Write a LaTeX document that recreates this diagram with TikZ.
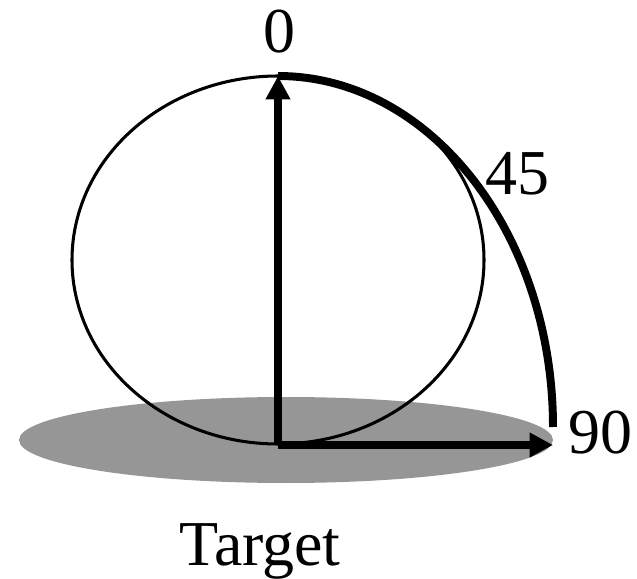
\documentclass[tikz,border=0pt]{standalone}
\usepackage{fontspec}
\setmainfont{Liberation Serif}
\usepackage{tikz}
\usetikzlibrary{shapes,arrows.meta,positioning}
\definecolor{targetgray}{gray}{0.59}
\begin{document}
\begin{tikzpicture}[x=0.03cm,y=0.03cm,
        lbl/.style={anchor=base,inner sep=0pt,font=\fontsize{54.6}{60}\selectfont},
        axis/.style={line width=6pt,-{Triangle[length=20pt,width=20pt]}}]
            \useasboundingbox (0,0) rectangle (637,578);
            \fill[targetgray] (286,138) ellipse[x radius=267,y radius=43];
            \draw[line width=2.6pt] (278,318) ellipse[x radius=206,y radius=184];
            \coordinate (origin) at (278,133);
            \coordinate (top) at (278,502);
            \coordinate (right) at (553,133);
            \coordinate (tail) at (553,151);
            \draw[line width=6.8pt] (top) arc[start angle=90,end angle=0,x radius=275,y radius=351];
            \draw[axis] (origin) -- (top);
            \draw[axis] (origin) -- (right);
            \node[lbl] (deg0) at (279,525) {0};
            \node[lbl] (deg45) at (517,383) {45};
            \node[lbl] (deg90) at (600,125) {90};
            \node[lbl] (target) at (260,13) {Target};
        \end{tikzpicture}
\end{document}
